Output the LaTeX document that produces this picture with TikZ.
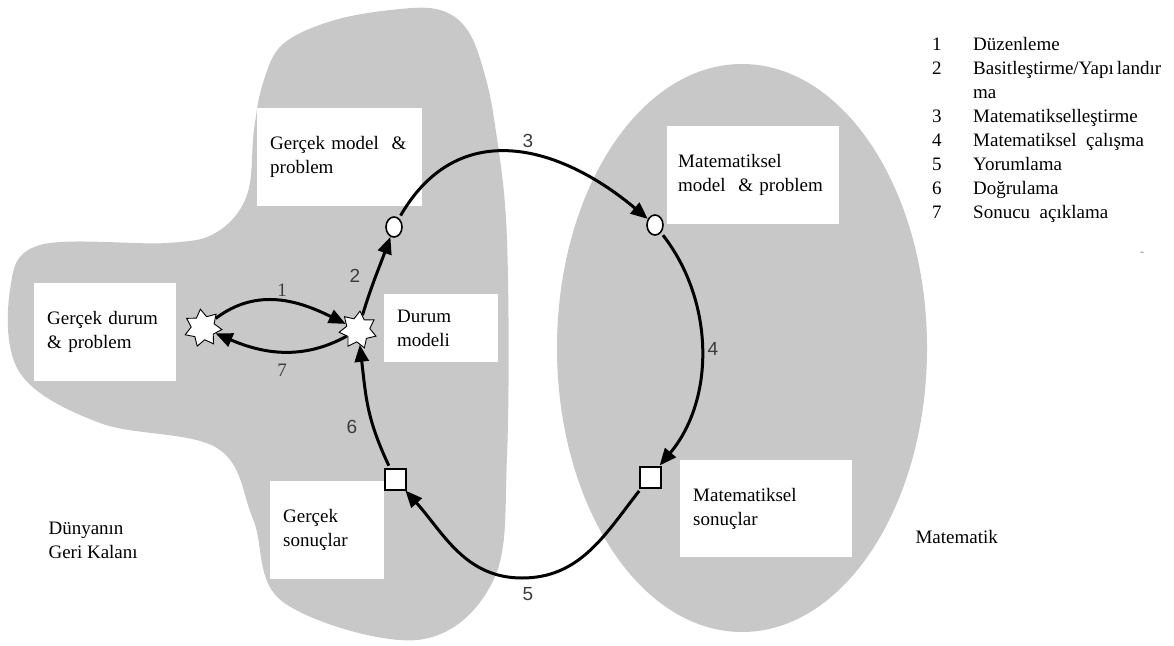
\documentclass[tikz,border=0pt]{standalone}
\usepackage{fontspec}
\setmainfont{Liberation Serif}
\newfontfamily\labelfont{Liberation Sans}
\usetikzlibrary{shapes.geometric,arrows.meta}
\definecolor{regiongray}{RGB}{200,200,200}
\definecolor{numgray}{RGB}{60,60,60}

\begin{document}
\begin{tikzpicture}[x=1pt,y=1pt,
  every node/.style={font=\fontsize{19}{24}\selectfont},
  region/.style={fill=regiongray, draw=none},
  tbox/.style={fill=white, anchor=north west, align=left, inner xsep=13pt, inner ysep=0pt},
  flow/.style={line width=3pt, -{Triangle[length=17pt,width=14pt]}},
  num/.style={font=\labelfont\fontsize{19}{24}\selectfont, text=numgray},
  snum/.style={text=numgray},
  starnode/.style={star, star points=7, star point ratio=1.6, minimum size=38pt, inner sep=0pt, draw, fill=white, line width=0.9pt},
  ringnode/.style={ellipse, minimum width=16pt, minimum height=20pt, inner sep=0pt, draw, fill=white, line width=1.6pt},
  sqnode/.style={rectangle, minimum size=21pt, inner sep=0pt, draw, fill=white, line width=2pt},
]
\useasboundingbox (0,0) rectangle (1174,-645);

% the two regions: the real world and mathematics
\fill[region] plot[smooth cycle, tension=0.6] coordinates {
  (40,-245) (167,-243) (217,-232) (247,-195) (254,-130) (263,-83)
  (283,-44) (335,-20) (400,-9) (440,-10) (466,-28) (482,-65) (495,-125)
  (507,-240) (507,-456)
  (493,-581) (417,-640) (283,-602) (253,-519) (217,-448) (100,-423)
  (20,-373) (10,-290)};
\fill[region] (742,-348) ellipse [x radius=185, y radius=284];

% text boxes
\node[tbox, text width=139pt, minimum height=98pt] (gmp) at (257,-108)
  {Gerçek model\ \ \&\\problem};
\node[tbox, text width=88pt, minimum height=68pt] (dm) at (384,-294)
  {Durum\\modeli};
\node[tbox, text width=116pt, minimum height=98pt] (gdp) at (34,-283)
  {Gerçek durum\\\& problem};
\node[tbox, text width=88pt, minimum height=98pt] (gs) at (270,-481)
  {Gerçek\\sonuçlar};
\node[tbox, inner xsep=11pt, text width=150pt, minimum height=98pt] (mmp) at (667,-126)
  {Matematiksel\\model\ \ \& problem};
\node[tbox, text width=146pt, minimum height=97pt] (ms) at (680,-460)
  {Matematiksel\\sonuçlar};

% states of the modelling cycle
\node[starnode, rotate=8] (s1) at (203,-328) {};
\node[starnode, rotate=-6] (s2) at (358,-330) {};
\node[ringnode] (c1) at (394,-227) {};
\node[ringnode] (c2) at (655,-225) {};
\node[sqnode] (q1) at (395,-479) {};
\node[sqnode] (q2) at (650,-477) {};
\coordinate (low) at (522,-578);

% transitions
\draw[flow] (s1) to[out=35,in=155] (s2);
\draw[flow] (s2) to[out=-150,in=-25] (s1);
\draw[flow] (s2) to[out=75,in=-110] (c1);
\draw[flow, shorten <=3pt] (c1) to[out=60,in=140,looseness=1.2] (c2);
\draw[flow, shorten <=3pt] (c2) to[out=-52,in=50,looseness=0.95] (q2);
\draw[flow, shorten <=3pt] (q2) to[out=-128,in=0] (low) to[out=180,in=-48] (q1);
\draw[flow, shorten <=2pt] (q1) to[out=115,in=-82,looseness=1.1] (s2);

% step numbers
\node[snum] (n1) at (282,-290) {1};
\node[num] (n2) at (355,-276) {2};
\node[num] (n3) at (528,-141) {3};
\node[num] (n4) at (713,-349) {4};
\node[num] (n5) at (528,-594) {5};
\node[num] (n6) at (352,-427) {6};
\node[snum] (n7) at (282,-370) {7};

% region names
\node[anchor=west, align=left] (rest) at (45,-540) {Dünyanın\\Geri Kalanı};
\node[anchor=west] (math) at (912,-537) {Matematik};

% key to the steps
\node[anchor=north west, inner sep=0pt] (key) at (932,-33) {%
  \begin{tabular}{@{}p{41pt}@{}l@{}}
  1 & Düzenleme\\
  2 & Basitleştirme/Yapı\kern3pt landır\\
    & ma\\
  3 & Matematikselleştirme\\
  4 & Matematiksel\ \ çalışma\\
  5 & Yorumlama\\
  6 & Doğrulama\\
  7 & Sonucu\ \ açıklama
  \end{tabular}};
\node[text=gray, font=\fontsize{12}{14}\selectfont] (mark) at (1142,-254) {-};
\end{tikzpicture}
\end{document}
